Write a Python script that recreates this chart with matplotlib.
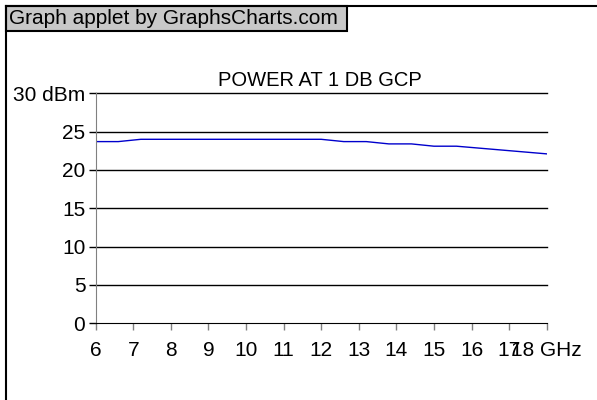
import matplotlib
matplotlib.use('Agg')
import matplotlib.pyplot as plt
from matplotlib.patches import Rectangle
from matplotlib.lines import Line2D

# Dados
freq = [6.0, 6.6, 7.2, 7.8, 8.4, 9.0, 9.6, 10.2, 10.8, 11.4, 12.0,
        12.6, 13.2, 13.8, 14.4, 15.0, 15.6, 16.2, 16.8, 17.4, 18.0]
power = [23.7, 23.7, 24.0, 24.0, 24.0, 24.0, 24.0, 24.0, 24.0, 24.0, 24.0,
         23.7, 23.7, 23.4, 23.4, 23.1, 23.1, 22.85, 22.6, 22.35, 22.1]

x_ticks = [6, 7, 8, 9, 10, 11, 12, 13, 14, 15, 16, 17, 18]
x_labels = ['6', '7', '8', '9', '10', '11', '12', '13', '14', '15', '16', '17', '18 GHz']
y_ticks = [0, 5, 10, 15, 20, 25, 30]
y_labels = ['0', '5', '10', '15', '20', '25', '30 dBm']

titulo = 'POWER AT 1 DB GCP'
cabecalho = 'Graph applet by GraphsCharts.com'

plt.rcParams['font.family'] = ['Liberation Sans', 'DejaVu Sans']

W, H = 597, 400
fig = plt.figure(figsize=(W / 100, H / 100), dpi=100)

def fx(px):
    return px / W

def fy(py):
    return 1 - py / H

ax = fig.add_axes([fx(95.7), fy(323.3), fx(546.7) - fx(95.7), fy(93.3) - fy(323.3)])
ax.plot(freq, power, color='#0000cc', lw=1)
ax.set_xlim(6, 18)
ax.set_ylim(0, 30)

for v in y_ticks[1:]:
    ax.axhline(v, color='black', lw=1, clip_on=False, zorder=1)

ax.set_xticks(x_ticks)
ax.set_xticklabels(x_labels, fontsize=15)
ax.set_yticks(y_ticks)
ax.set_yticklabels(y_labels, fontsize=15)
ax.tick_params(axis='x', direction='out', length=5, width=1, color='gray', pad=8)
ax.tick_params(axis='y', direction='out', length=5, width=1, color='black', pad=2.5)

for s in ['top', 'right']:
    ax.spines[s].set_visible(False)
ax.spines['left'].set_color('gray')
ax.spines['bottom'].set_color('black')

fig.text(fx(320), fy(86.5), titulo, ha='center', va='baseline', fontsize=14.5)

# Moldura e cabeçalho
fig.patches.append(Rectangle((fx(6), fy(31)), fx(347) - fx(6), fy(6) - fy(31),
                             transform=fig.transFigure, facecolor='#c8c8c8',
                             edgecolor='black', lw=1.5))
fig.text(fx(9), fy(19), cabecalho, ha='left', va='center', fontsize=15)
fig.lines.append(Line2D([fx(6), fx(6)], [fy(6), 0], transform=fig.transFigure, color='black', lw=1.5))
fig.lines.append(Line2D([fx(6), 1], [fy(6), fy(6)], transform=fig.transFigure, color='black', lw=1.5))

fig.savefig('out.png', dpi=100)
